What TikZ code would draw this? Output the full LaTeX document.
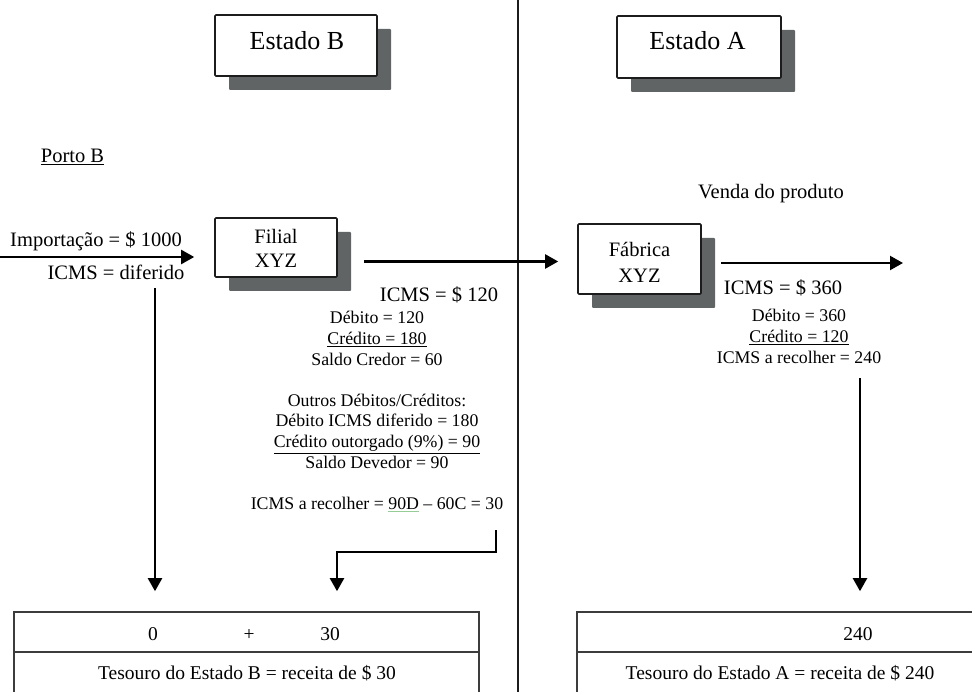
\documentclass[tikz,border=0pt]{standalone}
\usepackage{fontspec}
\setmainfont{Liberation Serif}
\usetikzlibrary{arrows.meta,shadows}
\definecolor{shadowgray}{RGB}{96,100,100}
\definecolor{inkline}{RGB}{28,28,28}
\definecolor{tableline}{RGB}{60,60,60}
\definecolor{spellgreen}{RGB}{150,205,150}
\newcommand\fbig{\fontsize{26}{30}\selectfont}
\newcommand\fmain{\fontsize{20.5}{24}\selectfont}
\newcommand\fsmall{\fontsize{17.8}{20.6}\selectfont}
% word with a thin green spell-check underline
\newcommand\spellmark[1]{\setbox0\hbox{#1}\rlap{\color{spellgreen}\rule[-2.8pt]{\wd0}{0.5pt}}\box0\relax}

\begin{document}
\begin{tikzpicture}[x=1pt,y=-1pt,
  shbox/.style={draw=inkline, line width=1.6pt, fill=white, rounded corners=1pt, inner sep=0pt,
    drop shadow={shadow xshift=14pt, shadow yshift=-14pt, fill=shadowgray, opacity=1}},
  tablebox/.style={draw=tableline, line width=1.6pt, inner sep=0pt},
  txt/.style={anchor=base, inner sep=0pt, font=\fmain},
  small/.style={anchor=base, inner sep=0pt, font=\fsmall},
  arr/.style={draw=black, line width=2.2pt, -{Triangle[length=13pt,width=14pt]}},
  divider/.style={draw=inkline, line width=1.6pt}
]
\useasboundingbox (0,0) rectangle (972,692);

% dividing line between the two states
\coordinate (divtop) at (518,-2);
\coordinate (divbot) at (518,694);
\draw[divider] (divtop) -- (divbot);

% state headers
\node[shbox, minimum width=162pt, minimum height=61pt] (estB) at (296,45.5) {};
\node[anchor=base, inner sep=0pt, font=\fbig] (estBt) at (297,50) {Estado B};
\node[shbox, minimum width=164pt, minimum height=62pt] (estA) at (699,47) {};
\node[anchor=base, inner sep=0pt, font=\fbig] (estAt) at (697.5,50) {Estado A};

% port label
\node[txt, font=\fontsize{20.5}{24}\selectfont] (porto) at (72.5,163) {\underline{Porto B}};

% establishments
\node[shbox, minimum width=122pt, minimum height=59pt] (filial) at (276,247.5) {};
\node[txt] (filialt1) at (276,244) {Filial};
\node[txt] (filialt2) at (276,268) {XYZ};
\node[shbox, minimum width=123pt, minimum height=70pt] (fabrica) at (639.5,259) {};
\node[txt] (fabricat1) at (639.5,257) {Fábrica};
\node[txt] (fabricat2) at (639.5,283) {XYZ};

% import flow
\coordinate (imp) at (0,257);
\draw[arr, shorten >=20pt] (imp) -- (imp -| filial.west);
\node[txt] (impt) at (96,247) {Importação = \$ 1000};
\node[txt] (difer) at (116,280) {ICMS = diferido};

% transfer between establishments
\coordinate (trf) at (364,261.5);
\draw[arr, shorten >=19pt] (trf) -- (trf -| fabrica.west);
\node[txt] (icms120) at (439,302) {ICMS = \$ 120};

% sale of the product
\node[txt] (venda) at (771,199) {Venda do produto};
\coordinate (sale1) at (721,263);
\coordinate (sale2) at (903,263);
\draw[arr] (sale1) -- (sale2);
\node[txt] (icms360) at (783,295) {ICMS = \$ 360};

% State B ledger
\node[small] (b1) at (377,324) {Débito = 120};
\node[small] (b2) at (377,344.6) {\underline{Crédito = 180}};
\node[small] (b3) at (377,365.2) {Saldo Credor = 60};
\node[small] (b4) at (377,406.4) {Outros Débitos/Créditos:};
\node[small] (b5) at (377,427) {Débito ICMS diferido = 180};
\node[small] (b6) at (377,447.6) {\underline{Crédito outorgado (9\%) = 90}};
\node[small] (b7) at (377,468.2) {Saldo Devedor = 90};
\node[small] (b8) at (377,509) {ICMS a recolher = \spellmark{90D} -- 60C = 30};

% State A ledger
\node[small] (a1) at (799,322) {Débito = 360};
\node[small] (a2) at (799,342.6) {\underline{Crédito = 120}};
\node[small] (a3) at (799,363.2) {ICMS a recolher = 240};

% treasury tables
\node[tablebox, minimum width=465pt, minimum height=82pt] (tabB) at (246.5,653) {};
\draw[tablebox] (tabB.west |- 0,652) -- (tabB.east |- 0,652);
\node[txt, font=\fontsize{19.5}{23}\selectfont] (zero) at (153,640) {0};
\node[txt, font=\fontsize{19.5}{23}\selectfont] (plus) at (249,640) {+};
\node[txt, font=\fontsize{19.5}{23}\selectfont] (thirty) at (330,640) {30};
\node[txt, font=\fontsize{19.5}{23}\selectfont] (tesB) at (247,679) {Tesouro do Estado B = receita de \$ 30};

\node[tablebox, minimum width=400pt, minimum height=82pt] (tabA) at (777,653) {};
\draw[tablebox] (tabA.west |- 0,652) -- (tabA.east |- 0,652);
\node[txt, font=\fontsize{19.5}{23}\selectfont] (t240) at (858,640) {240};
\node[txt, font=\fontsize{19.5}{23}\selectfont] (tesA) at (780,679) {Tesouro do Estado A = receita de \$ 240};

% flows into the treasuries
\coordinate (dif) at (155,288);
\draw[arr, shorten >=20pt] (dif) -- (dif |- tabB.north);
\coordinate (recB) at (496,530);
\coordinate (bend) at (337,552);
\draw[arr, shorten >=20pt] (recB) |- (bend) -- (bend |- tabB.north);
\coordinate (recA) at (860,378);
\draw[arr, shorten >=20pt] (recA) -- (recA |- tabA.north);
\end{tikzpicture}
\end{document}
